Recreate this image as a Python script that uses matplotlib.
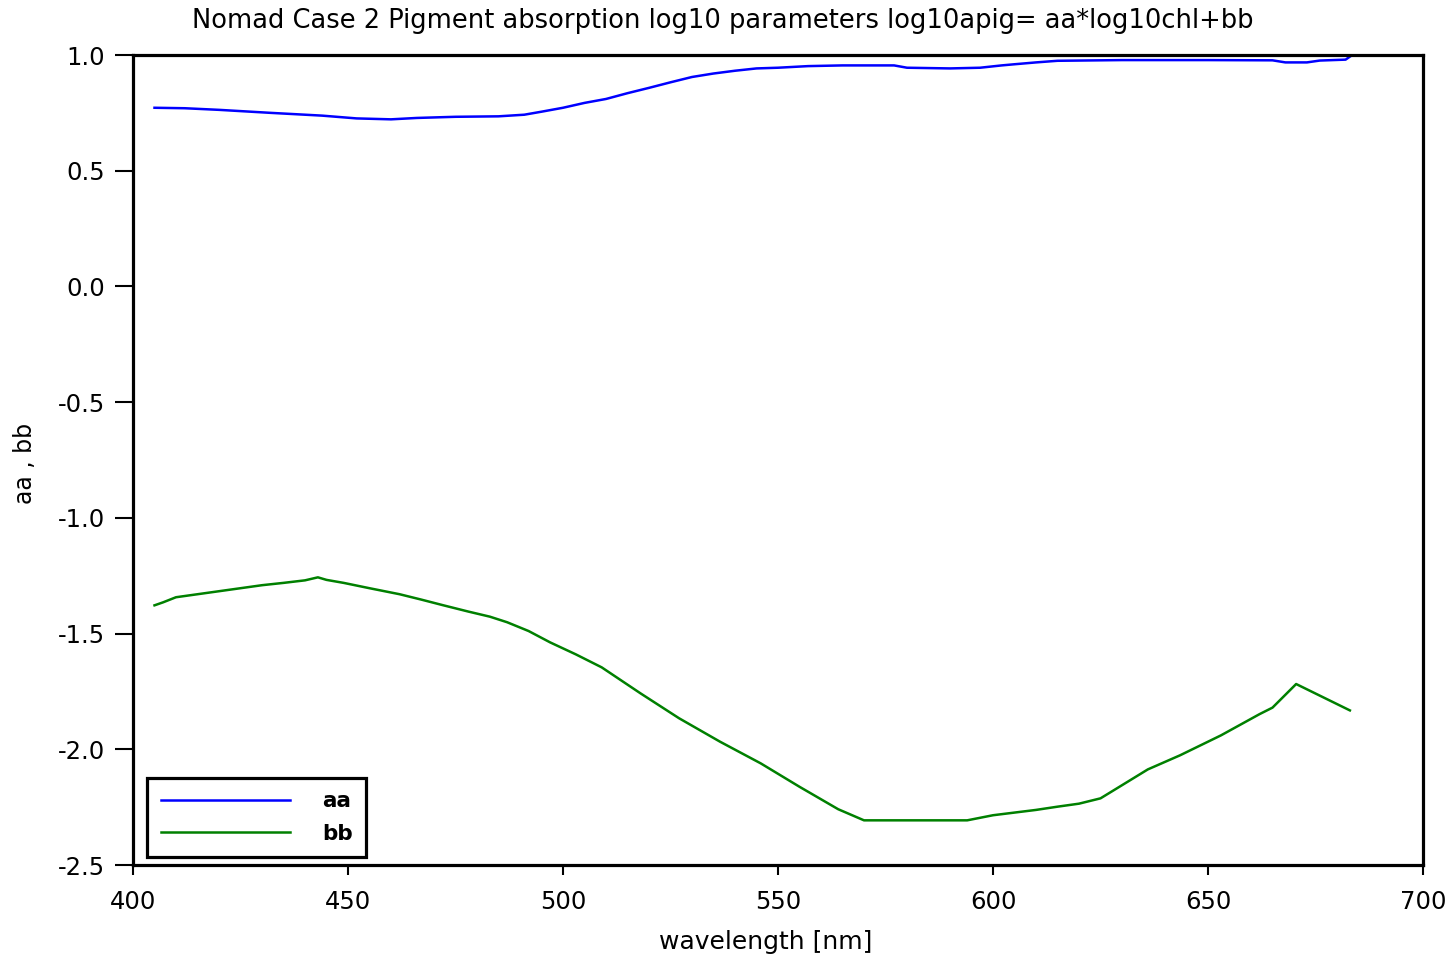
import matplotlib
matplotlib.use("Agg")
import matplotlib.pyplot as plt
from matplotlib.ticker import FormatStrFormatter

plt.rcParams['font.family'] = ['DejaVu Sans']
plt.rcParams['axes.unicode_minus'] = False

# ---- data ----
aa_wl = [405, 412, 420, 432, 444, 452, 460, 466, 475, 485, 491, 495, 500, 505,
         510, 515, 520, 525, 530, 535, 540, 545, 550, 557, 565, 577, 580, 590,
         597, 602, 605, 610, 615, 630, 650, 665, 668, 673, 676, 682, 683]
aa_val = [0.772, 0.770, 0.763, 0.750, 0.738, 0.726, 0.722, 0.728, 0.733, 0.735,
          0.742, 0.755, 0.772, 0.793, 0.810, 0.835, 0.858, 0.882, 0.905, 0.920,
          0.932, 0.942, 0.945, 0.952, 0.955, 0.955, 0.945, 0.942, 0.945, 0.955,
          0.960, 0.968, 0.975, 0.978, 0.978, 0.977, 0.968, 0.968, 0.976, 0.980,
          0.993]

bb_wl = [405, 407, 410, 415, 420, 425, 430, 435, 440, 443, 445, 449, 455, 462,
         467, 472, 478, 483, 487, 492, 497, 503, 509, 518, 527, 536.5, 546, 555,
         564, 570, 594, 600, 610, 615, 620, 625, 628, 636, 643.5, 653, 662, 665,
         670.5, 683]
bb_val = [-1.378, -1.365, -1.343, -1.330, -1.317, -1.304, -1.291, -1.281, -1.270,
          -1.257, -1.268, -1.281, -1.304, -1.330, -1.353, -1.377, -1.405, -1.427,
          -1.451, -1.489, -1.538, -1.590, -1.646, -1.758, -1.866, -1.967, -2.061,
          -2.162, -2.259, -2.307, -2.307, -2.285, -2.262, -2.248, -2.235, -2.212,
          -2.178, -2.087, -2.026, -1.940, -1.848, -1.820, -1.718, -1.832]

series_labels = ["aa", "bb"]
x_ticks = [400, 450, 500, 550, 600, 650, 700]
y_ticks = [1.0, 0.5, 0.0, -0.5, -1.0, -1.5, -2.0, -2.5]

title = "Nomad Case 2 Pigment absorption log10 parameters log10apig= aa*log10chl+bb"
xlabel = "wavelength [nm]"
ylabel = "aa , bb"

# ---- figure ----
W, H = 1451, 959
fig = plt.figure(figsize=(W / 100, H / 100), dpi=100)
ax = fig.add_axes([133 / W, 1 - 865 / H, (1423 - 133) / W, (865 - 55) / H])

ax.plot(aa_wl, aa_val, color="#0000ff", lw=1.8, label=series_labels[0])
ax.plot(bb_wl, bb_val, color="#008000", lw=1.8, label=series_labels[1])

ax.set_xlim(400, 700)
ax.set_ylim(-2.5, 1.0)
ax.set_xticks(x_ticks)
ax.set_yticks(y_ticks)
ax.yaxis.set_major_formatter(FormatStrFormatter('%.1f'))

for s in ax.spines.values():
    s.set_linewidth(2.3)
    s.set_color("black")

ax.tick_params(axis='y', direction='out', length=13, width=1.5, pad=7, labelsize=17.5,
               left=True, right=False)
ax.tick_params(axis='x', direction='out', length=7, width=1.5, pad=11, labelsize=17.5,
               bottom=True, top=False)

leg = ax.legend(loc='lower left', bbox_to_anchor=(0.011, 0.010), borderaxespad=0,
                fontsize=15.5, handlelength=6.0, handletextpad=1.5, labelspacing=0.58,
                borderpad=0.62, fancybox=False, framealpha=1, edgecolor='black',
                markerfirst=True)
leg.get_frame().set_linewidth(2.3)
for t in leg.get_texts():
    t.set_fontweight('bold')

fig.text(723 / W, 1 - 21 / H, title, ha='center', va='center', fontsize=18.5)
fig.text(766 / W, 1 - 942 / H, xlabel, ha='center', va='center', fontsize=18)
fig.text(25 / W, 1 - 463 / H, ylabel, ha='center', va='center', fontsize=17,
         rotation=90)

fig.savefig("out.png", dpi=100)
